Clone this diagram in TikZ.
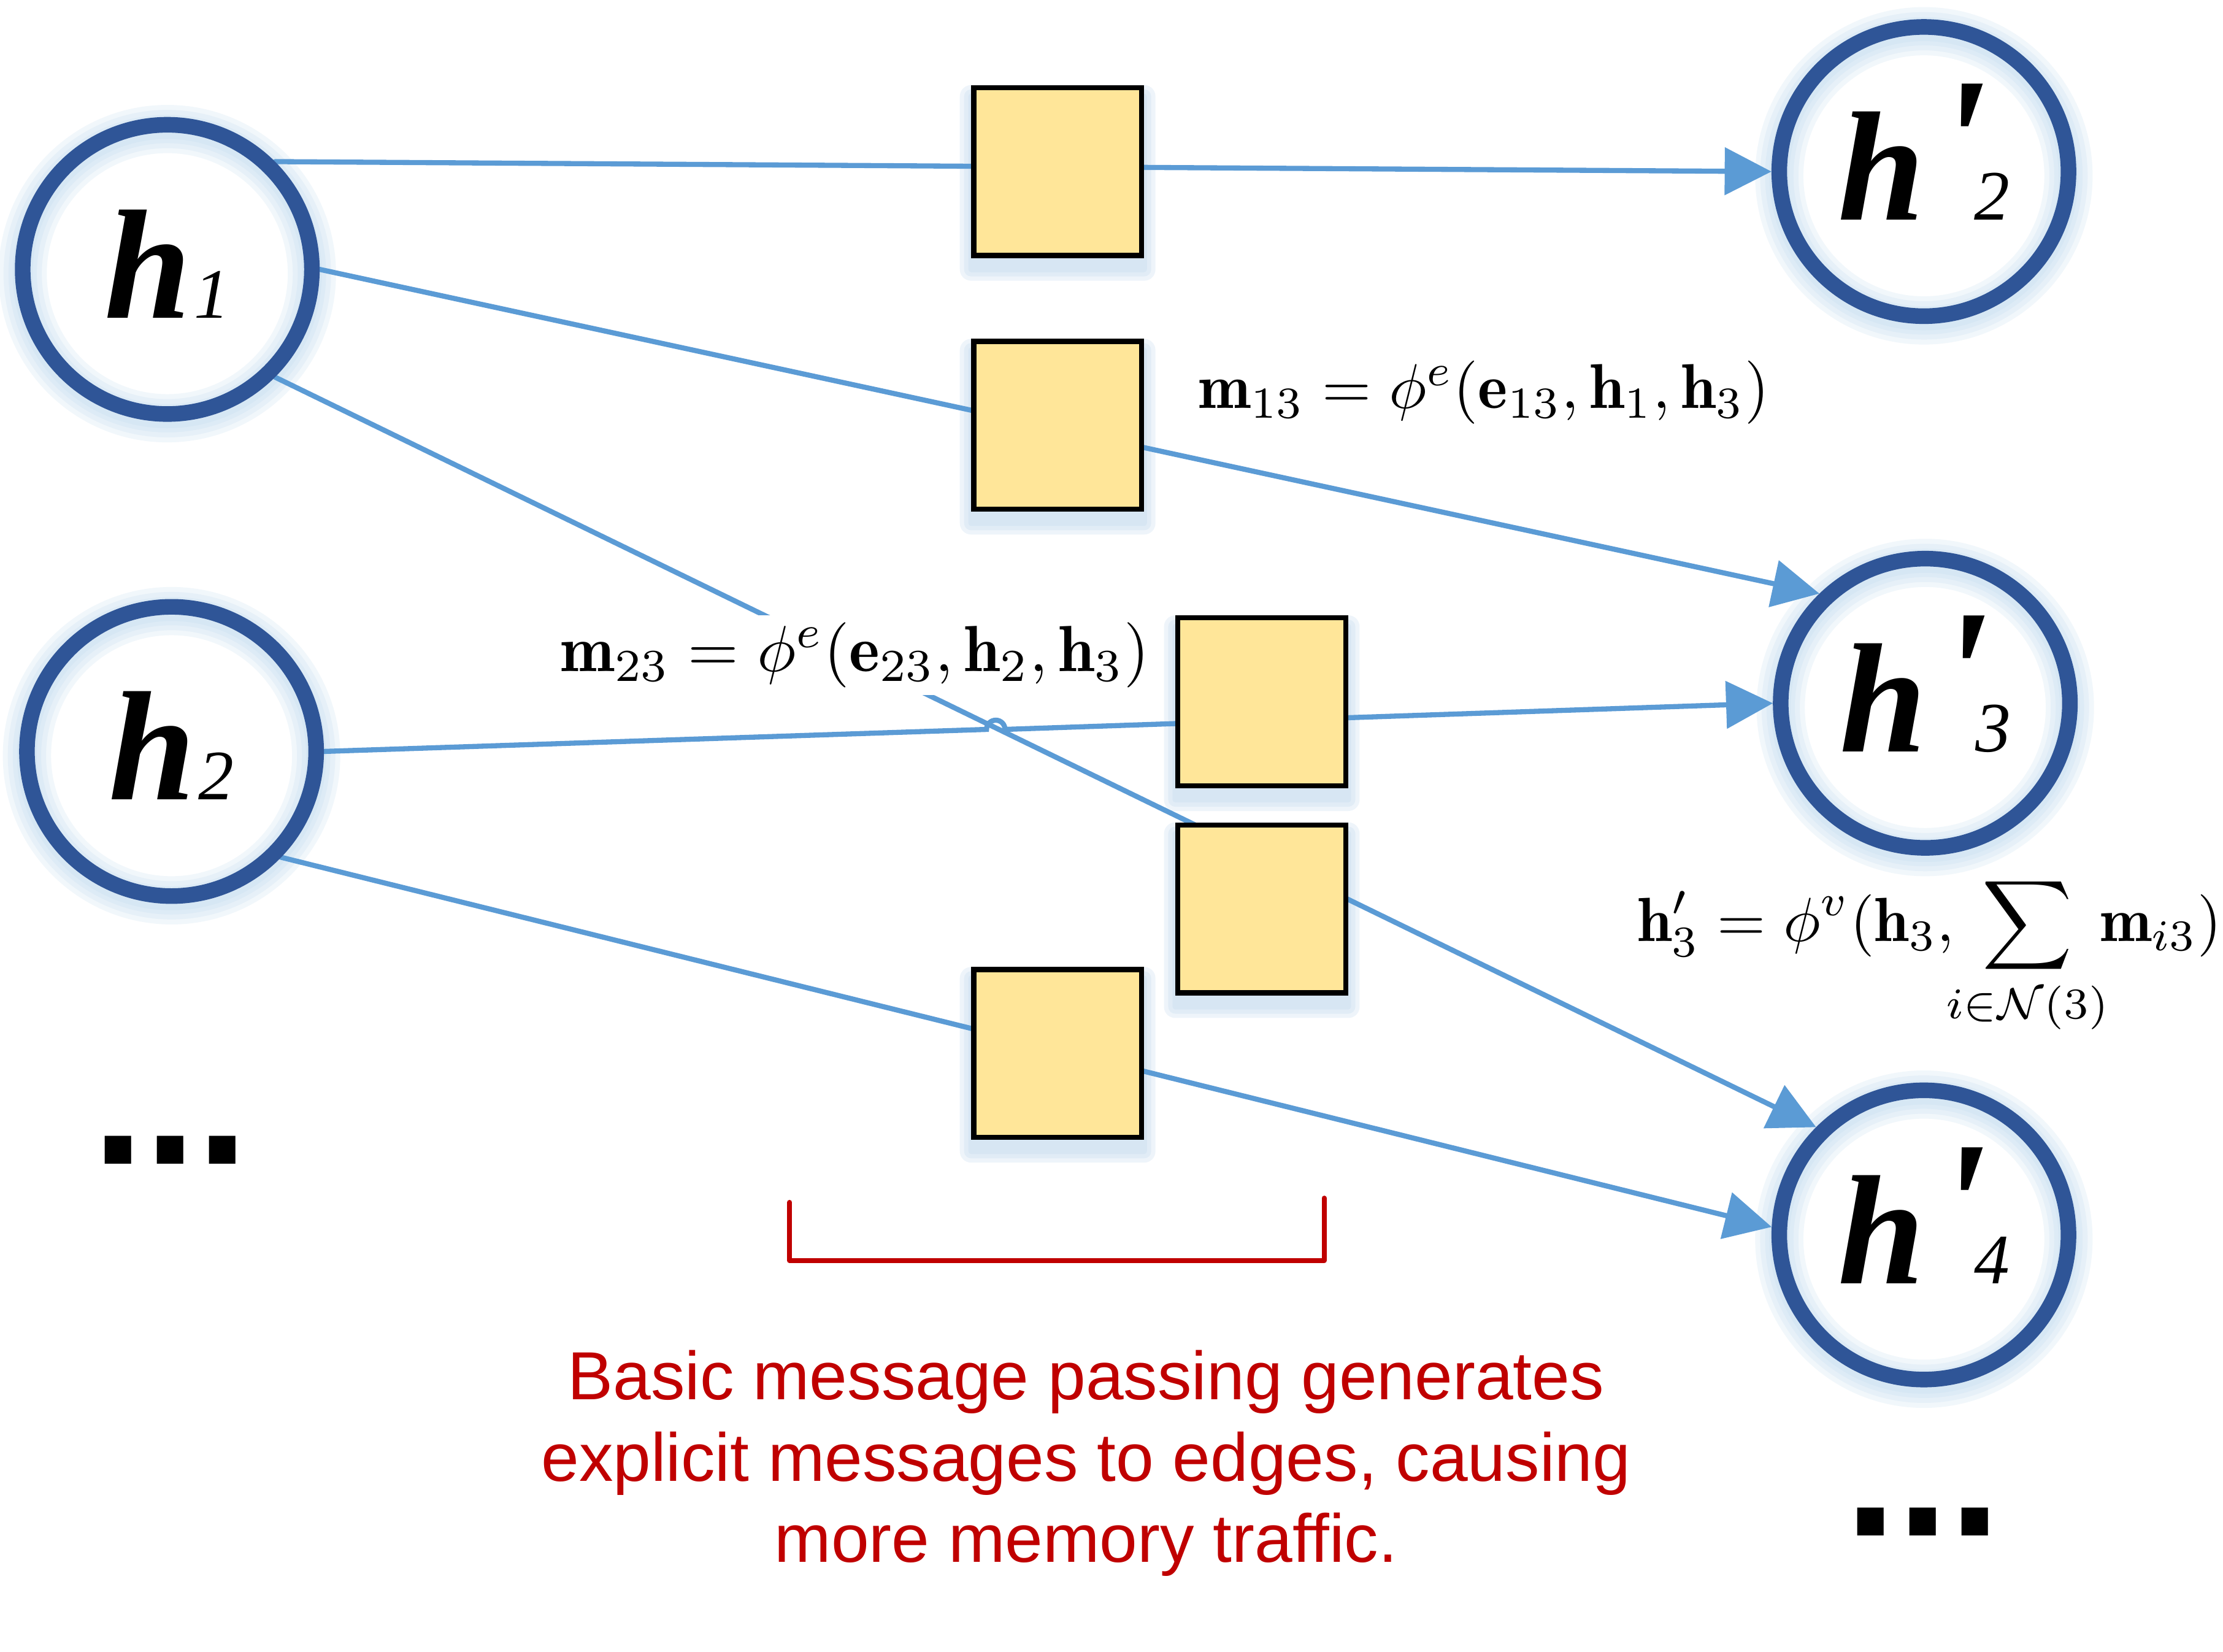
\documentclass[tikz,border=0pt]{standalone}
\usepackage{amsmath}
\usepackage{mathtools}
\usepackage{graphicx}
\usepackage{fontspec}
\usetikzlibrary{arrows.meta,backgrounds,calc}
\newfontfamily\arialf{Liberation Sans}
\newfontfamily\timesf[Ligatures=TeXOff]{Liberation Serif}
\definecolor{ringblue}{HTML}{2F5597}
\definecolor{edgeblue}{HTML}{5B9BD5}
\definecolor{glowblue}{HTML}{BDD7EE}
\definecolor{boxfill}{HTML}{FFE699}
\definecolor{darkred}{HTML}{C00000}
\newcommand\hbig{\timesf\fontsize{110}{110}\selectfont\bfseries\itshape}
\newcommand\hprime{\timesf\fontsize{128}{128}\selectfont\bfseries\itshape}
\newcommand\hsmall{\timesf\fontsize{50}{50}\selectfont\itshape}
\newcommand\hlabel[1]{\raisebox{8pt}{{\hbig h}\kern2pt{\hsmall #1}}}
\newcommand\hplabel[1]{\raisebox{8pt}{{\hbig h}\kern8pt\smash{\raisebox{12pt}{\hprime '}}\kern-9pt{\hsmall #1}}}
\begin{document}
\begin{tikzpicture}[x=1pt,y=1pt,
  circ/.style={circle,draw=ringblue,line width=11pt,minimum size=204pt,inner sep=0pt},
  sq/.style={rectangle,draw=black,line width=3.6pt,fill=boxfill,minimum size=118.4pt,inner sep=0pt},
  edge/.style={draw=edgeblue,line width=3.6pt,line cap=round},
  arr/.style={edge,-{Triangle[length=33pt,width=33pt]}},
  frm/.style={inner sep=5pt},
  dotsf/.style={font=\arialf\bfseries\fontsize{132}{132}\selectfont,inner sep=0pt,anchor=base west},
  brk/.style={draw=darkred,line width=3.4pt,line cap=round,line join=round},
]
\useasboundingbox (0,0) rectangle (1568,-1165);
% nodes
\node[circ] (h1)  at (118,-190)  {\hlabel{1}};
\node[circ] (h2)  at (121,-530)  {\hlabel{2}};
\node[circ] (h2p) at (1357,-121) {\hplabel{2}};
\node[circ] (h3p) at (1358,-496) {\hplabel{3}};
\node[circ] (h4p) at (1357,-871) {\hplabel{4}};
\node[sq] (s1) at (746,-121) {};
\node[sq] (s2) at (746,-300) {};
\node[sq] (s3) at (890,-495) {};
\node[sq] (s4) at (890,-641) {};
\node[sq] (s5) at (746,-743) {};
\node[frm,anchor=west] (f13) at (840,-277) {\scalebox{4.46}{$\mathbf{m}_{13}=\phi^{e}(\mathbf{e}_{13},\mathbf{h}_{1},\mathbf{h}_{3})$}};
\node[frm,fill=white] (f23) at (603,-462) {\scalebox{4.6}{$\mathbf{m}_{23}=\phi^{e}(\mathbf{e}_{23},\mathbf{h}_{2},\mathbf{h}_{3})$}};
\node[frm] (fh3) at (1361,-674) {\scalebox{4.4}{$\displaystyle \mathbf{h}'_{3}=\phi^{v}(\mathbf{h}_{3},\;\sum_{\mathclap{i\in\mathcal{N}(3)}}\;\mathbf{m}_{i3})$}};
\node[dotsf] (d1) at (65,-821) {...};
\node[dotsf] (d2) at (1301,-1083) {...};
\node[font=\arialf\fontsize{48}{57.5}\selectfont,text=darkred,align=center,anchor=north,inner sep=3pt] (note) at (766,-949)
  {Basic message passing generates\\explicit messages to edges, causing\\more memory traffic.};
\coordinate (bA) at (557,-848);
\coordinate (bB) at (557,-889);
\coordinate (bC) at (934,-889);
\coordinate (bD) at (934,-845);
\draw[brk] (bA) -- (bB) -- (bC) -- (bD);
\coordinate (hopL) at (695.86,-514.45);
\begin{pgfonlayer}{background}
\fill[white] (0,0) rectangle (1568,-1165);
\foreach \n in {h1,h2,h2p,h3p,h4p}{
  \foreach \w in {34,27,20,14}{
    \draw[glowblue,opacity=0.2,line width=\w pt] ([yshift=-3pt]\n.center) circle[radius=102pt];
  }
}
\foreach \n in {s1,s2,s3,s4,s5}{
  \foreach \e in {2,5,8}{
    \fill[glowblue,opacity=0.25,rounded corners=\e pt] ([xshift=-\e pt,yshift=-8pt-\e pt]\n.south west) rectangle ([xshift=\e pt,yshift=-8pt+\e pt]\n.north east);
  }
}
\draw[arr] (h1.45) -- (h2p.west);
\draw[arr] (h1.east) -- (h3p.134);
\draw[arr] (h1.-45.8) -- (h4p.135);
\draw[arr] (h2.east) -- (hopL) arc[start angle=180,end angle=0,radius=6.5pt] -- (h3p.west);
\draw[arr] (h2.-44) -- (h4p.177);
\end{pgfonlayer}
\end{tikzpicture}
\end{document}
